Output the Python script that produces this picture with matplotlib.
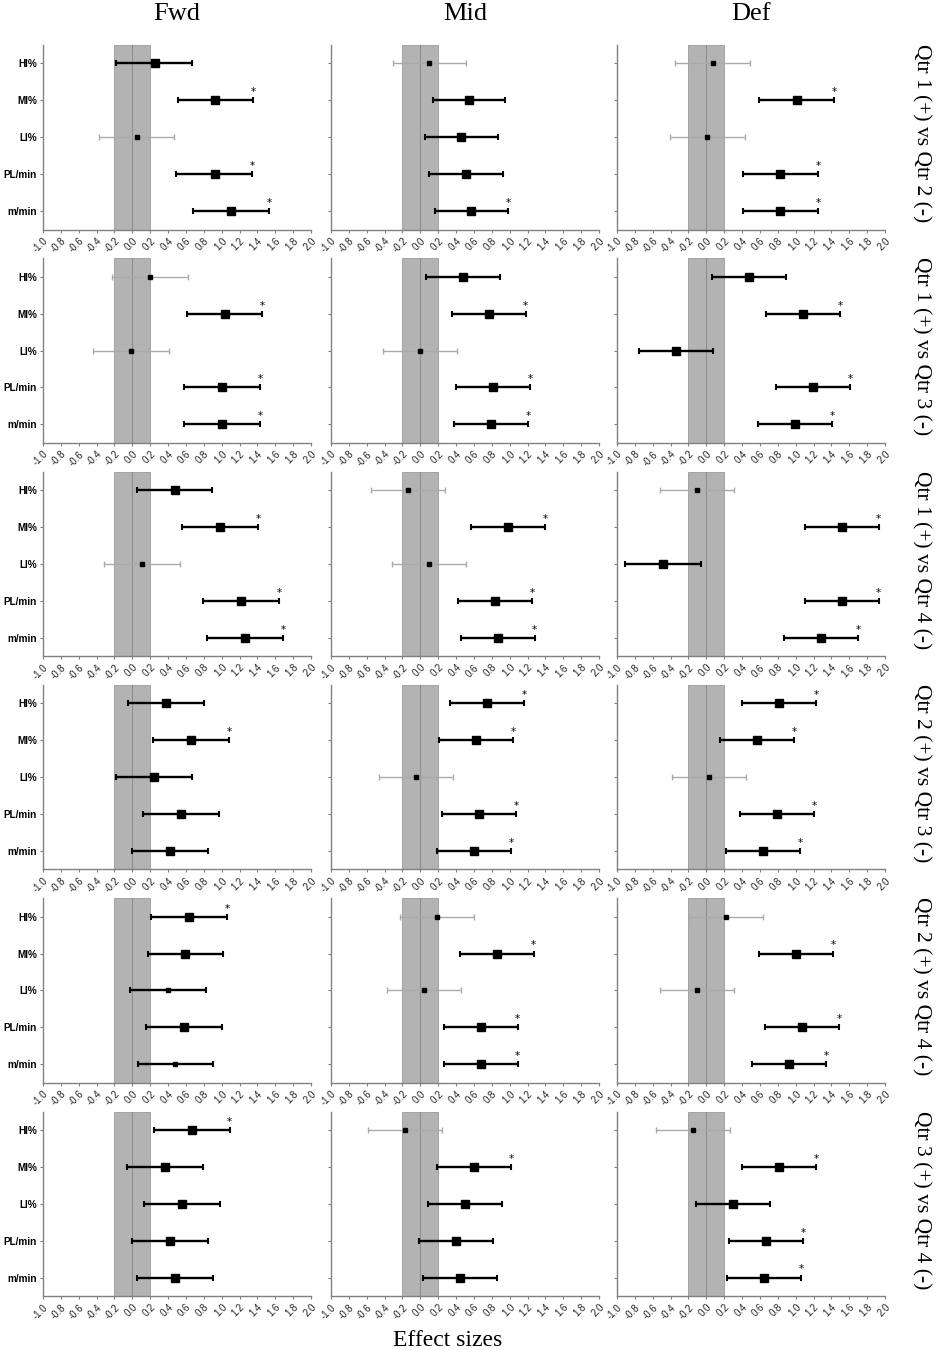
import matplotlib
matplotlib.use('Agg')
import matplotlib.pyplot as plt

# categories and labels
cats = ['HI%', 'MI%', 'LI%', 'PL/min', 'm/min']
positions = ['Fwd', 'Mid', 'Def']
comparisons = ['Qtr 1 (+) vs Qtr 2 (-)', 'Qtr 1 (+) vs Qtr 3 (-)',
               'Qtr 1 (+) vs Qtr 4 (-)', 'Qtr 2 (+) vs Qtr 3 (-)',
               'Qtr 2 (+) vs Qtr 4 (-)', 'Qtr 3 (+) vs Qtr 4 (-)']
xticks = [-1.0, -0.8, -0.6, -0.4, -0.2, 0.0, 0.2, 0.4, 0.6, 0.8,
          1.0, 1.2, 1.4, 1.6, 1.8, 2.0]

# effect sizes, one row per comparison
fwd_es = [[0.25, 0.93, 0.05, 0.92, 1.10],
          [0.20, 1.04, -0.02, 1.00, 1.00],
          [0.48, 0.98, 0.11, 1.22, 1.26],
          [0.38, 0.66, 0.24, 0.55, 0.42],
          [0.63, 0.59, 0.40, 0.58, 0.48],
          [0.67, 0.37, 0.56, 0.42, 0.48]]
fwd_lo = [[-0.18, 0.51, -0.37, 0.49, 0.68],
          [-0.23, 0.61, -0.44, 0.58, 0.58],
          [0.05, 0.56, -0.32, 0.79, 0.84],
          [-0.05, 0.23, -0.18, 0.12, 0.00],
          [0.21, 0.17, -0.03, 0.15, 0.06],
          [0.24, -0.06, 0.13, 0.00, 0.05]]
fwd_hi = [[0.67, 1.35, 0.47, 1.34, 1.53],
          [0.62, 1.45, 0.41, 1.43, 1.43],
          [0.89, 1.41, 0.53, 1.64, 1.69],
          [0.80, 1.08, 0.67, 0.97, 0.85],
          [1.06, 1.02, 0.83, 1.00, 0.90],
          [1.09, 0.79, 0.98, 0.85, 0.90]]
# inference: C = clear, P = possible, U = unclear
fwd_inf = ['CCUCC', 'UCUCC', 'CCUCC', 'CCCCC', 'CCPCP', 'CCCCC']
fwd_sig = ['01011', '01011', '01011', '01000', '10000', '10000']

mid_es = [[0.10, 0.54, 0.45, 0.51, 0.57],
          [0.48, 0.77, 0.00, 0.81, 0.79],
          [-0.14, 0.98, 0.10, 0.84, 0.87],
          [0.75, 0.62, -0.05, 0.66, 0.60],
          [0.19, 0.86, 0.04, 0.68, 0.68],
          [-0.17, 0.60, 0.50, 0.40, 0.44]]
mid_lo = [[-0.31, 0.14, 0.05, 0.10, 0.16],
          [0.06, 0.36, -0.42, 0.40, 0.38],
          [-0.55, 0.57, -0.32, 0.42, 0.46],
          [0.33, 0.21, -0.46, 0.24, 0.19],
          [-0.23, 0.44, -0.37, 0.27, 0.27],
          [-0.59, 0.19, 0.09, -0.02, 0.03]]
mid_hi = [[0.51, 0.95, 0.87, 0.92, 0.98],
          [0.89, 1.18, 0.41, 1.23, 1.21],
          [0.28, 1.40, 0.51, 1.25, 1.28],
          [1.16, 1.04, 0.37, 1.07, 1.02],
          [0.60, 1.27, 0.46, 1.09, 1.09],
          [0.24, 1.02, 0.91, 0.81, 0.86]]
mid_inf = ['UCCCC', 'CCUCC', 'UCUCC', 'CCUCC', 'UCUCC', 'UCCCC']
mid_sig = ['00001', '01011', '01011', '11011', '01011', '01000']

def_es = [[0.07, 1.01, 0.01, 0.83, 0.83],
          [0.48, 1.08, -0.34, 1.19, 0.99],
          [-0.10, 1.52, -0.49, 1.52, 1.28],
          [0.81, 0.57, 0.03, 0.79, 0.63],
          [0.22, 1.00, -0.10, 1.07, 0.93],
          [-0.15, 0.81, 0.30, 0.67, 0.65]]
def_lo = [[-0.35, 0.59, -0.41, 0.41, 0.41],
          [0.06, 0.67, -0.75, 0.78, 0.58],
          [-0.52, 1.11, -0.91, 1.11, 0.87],
          [0.40, 0.15, -0.38, 0.38, 0.22],
          [-0.19, 0.59, -0.52, 0.66, 0.51],
          [-0.56, 0.40, -0.12, 0.25, 0.23]]
def_hi = [[0.49, 1.43, 0.43, 1.25, 1.25],
          [0.89, 1.50, 0.08, 1.61, 1.41],
          [0.31, 1.93, -0.06, 1.93, 1.70],
          [1.23, 0.98, 0.44, 1.21, 1.05],
          [0.63, 1.42, 0.31, 1.49, 1.34],
          [0.27, 1.23, 0.71, 1.08, 1.06]]
def_inf = ['UCUCC', 'CCCCC', 'UCCCC', 'CCUCC', 'UCUCC', 'UCCCC']
def_sig = ['01011', '01011', '01011', '11011', '01011', '01011']


def main():

    W, H = 938, 1350
    fig = plt.figure(figsize=(W / 100, H / 100), dpi=100)

    cols = [(fwd_es, fwd_lo, fwd_hi, fwd_inf, fwd_sig),
            (mid_es, mid_lo, mid_hi, mid_inf, mid_sig),
            (def_es, def_lo, def_hi, def_inf, def_sig)]

    lefts = [43, 331, 617]
    pw, ph = 268, 184.5
    axis_col = '#808080'

    for r in range(len(comparisons)):
        top = 45 + 213.3 * r
        for c, (es, lo, hi, inf, sig) in enumerate(cols):
            ax = fig.add_axes([lefts[c] / W, 1 - (top + ph) / H, pw / W, ph / H])

            # trivial zone and zero line
            ax.axvspan(-0.2, 0.2, facecolor='#b3b3b3', edgecolor='#9a9a9a',
                       lw=0.6, zorder=0)
            ax.axvline(0, color='#8a8a8a', lw=0.7, zorder=1)

            for i, cat in enumerate(cats):
                y = i + 1
                x = es[r][i]
                err = [[x - lo[r][i]], [hi[r][i] - x]]
                kind = inf[r][i]
                if kind == 'U':
                    ax.errorbar(x, y, xerr=err, fmt='s', color='#aaaaaa',
                                mfc='black', mec='black', ms=3.3,
                                elinewidth=1.0, capsize=2.2, capthick=1.0,
                                zorder=3)
                else:
                    ax.errorbar(x, y, xerr=err, fmt='s', color='black',
                                ms=6.0 if kind == 'C' else 3.4,
                                elinewidth=1.7, capsize=2.3, capthick=1.5,
                                zorder=3)
                if sig[r][i] == '1':
                    ax.text(hi[r][i], y - 0.22, '*', ha='center', va='center',
                            fontsize=7.5, color='black', zorder=4)

            ax.set_xlim(-1.0, 2.0)
            ax.set_ylim(5.5, 0.5)
            ax.set_yticks(range(1, len(cats) + 1))
            if c == 0:
                ax.set_yticklabels(cats, fontsize=7.2, fontweight='bold',
                                   family='Liberation Sans')
            else:
                ax.set_yticklabels([])
            ax.set_xticks(xticks)
            ax.set_xticklabels(['{:.1f}'.format(t) for t in xticks],
                               rotation=45, ha='right', rotation_mode='anchor',
                               fontsize=7, color='#222222',
                               family='Liberation Sans')
            ax.tick_params(axis='both', length=2.5, width=0.8, color=axis_col,
                           pad=2)
            for s in ['top', 'right']:
                ax.spines[s].set_visible(False)
            for s in ['left', 'bottom']:
                ax.spines[s].set_color(axis_col)
                ax.spines[s].set_linewidth(1.0)

        # comparison label on the right
        fig.text(921 / W, 1 - (top + ph / 2 - 4) / H, comparisons[r],
                 rotation=-90, ha='center', va='center', fontsize=15.5,
                 family='Liberation Serif')

    # column titles
    for c, name in enumerate(positions):
        fig.text((lefts[c] + pw / 2) / W, 1 - 14 / H, name, ha='center',
                 va='center', fontsize=19, family='Liberation Serif')

    fig.text(448 / W, 1 - 1340 / H, 'Effect sizes', ha='center', va='center',
             fontsize=17, family='Liberation Serif')

    fig.savefig('out.png', dpi=100)


if __name__ == "__main__":

    main()
